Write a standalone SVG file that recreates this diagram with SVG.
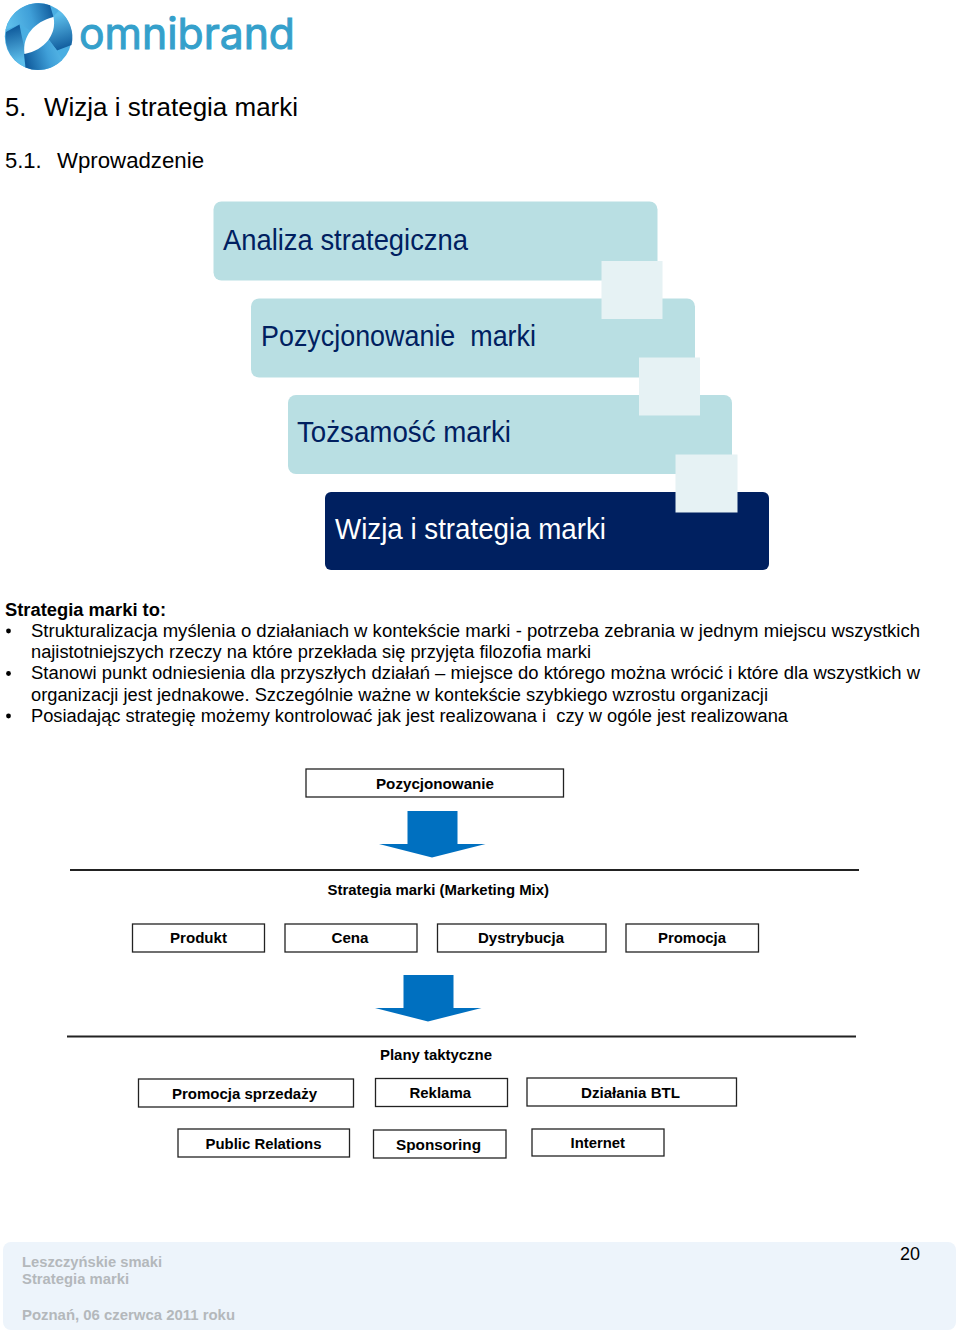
<svg xmlns="http://www.w3.org/2000/svg" width="960" height="1331" viewBox="0 0 960 1331">
<defs>
<linearGradient id="gTop" gradientUnits="userSpaceOnUse" x1="10" y1="24" x2="53" y2="12"><stop offset="0" stop-color="#5cbdea"/><stop offset="0.5" stop-color="#3f9fd8"/><stop offset="1" stop-color="#115d9e"/></linearGradient>
<linearGradient id="gLeft" gradientUnits="userSpaceOnUse" x1="14" y1="28" x2="22" y2="60"><stop offset="0" stop-color="#115d9e"/><stop offset="1" stop-color="#5cbdea"/></linearGradient>
<linearGradient id="gRight" gradientUnits="userSpaceOnUse" x1="56" y1="16" x2="66" y2="48"><stop offset="0" stop-color="#5cbdea"/><stop offset="1" stop-color="#115d9e"/></linearGradient>
<linearGradient id="gBot" gradientUnits="userSpaceOnUse" x1="26" y1="62" x2="66" y2="50"><stop offset="0" stop-color="#115d9e"/><stop offset="0.55" stop-color="#3f9fd8"/><stop offset="1" stop-color="#5cbdea"/></linearGradient>
</defs>
<style>
text{font-family:"Liberation Sans",Arial,sans-serif;fill:#000}
.h1{font-size:25.500px}.h2{font-size:22px}
.body{font-size:18px}
.lab{font-size:15px;font-weight:bold}
.box{fill:#fff;stroke:#222;stroke-width:1.3}
.rule{stroke:#222;stroke-width:1.8;fill:none}
.step{fill:#b9dfe3}
.tab{fill:#e6f2f4}
.st{font-size:29px;fill:#002060}
.foot{font-size:15px;font-weight:bold;fill:#b4b8bb}
.arrow{fill:#0070c0}
</style>
<g id="logo">
<circle cx="38.300" cy="36.600" r="33.500" fill="#4aaee2"/>
<path d="M5.500 30 A33.500 33.500 0 0 1 50 5.300 L53.500 17 L32 32 L20 24Z" fill="url(#gTop)"/>
<path d="M6 32 L19.500 24.500 C21 33 23 42 25 50 L24 54 L25.500 67.500 A33.500 33.500 0 0 1 6 32Z" fill="url(#gLeft)"/>
<path d="M53 17 L59 10.500 A33.500 33.500 0 0 1 71.500 45 L57 50.500 L46 36Z" fill="url(#gRight)"/>
<path d="M24 54 L46 36 L57 50.500 L62 60 A33.500 33.500 0 0 1 25.500 67.500Z" fill="url(#gBot)"/>
<path d="M24.500 54 C22 36 34 22 53.500 17 C57 34 45 50 24.500 54Z" fill="#fff"/>
<text x="79" y="49" font-size="43" textLength="216" lengthAdjust="spacingAndGlyphs" stroke="#35a0cb" stroke-width="1" style="font-family:Inter,sans-serif;fill:#35a0cb">omnibrand</text>
</g>
<g id="headings">
<text class="h1" x="5" y="116">5.</text><text class="h1" x="44" y="116" textLength="254" lengthAdjust="spacingAndGlyphs">Wizja i strategia marki</text>
<text class="h2" x="5" y="168">5.1.</text><text class="h2" x="57" y="168" textLength="147" lengthAdjust="spacingAndGlyphs">Wprowadzenie</text>
</g>
<g id="step1"><rect class="step" x="213.500" y="201.500" width="444" height="79" rx="8"/><text class="st" x="223" y="250" textLength="245" lengthAdjust="spacingAndGlyphs">Analiza strategiczna</text></g>
<g id="step2"><rect class="step" x="251" y="298.500" width="444" height="79" rx="8"/><text class="st" x="261" y="346" textLength="275" lengthAdjust="spacingAndGlyphs" xml:space="preserve">Pozycjonowanie  marki</text></g>
<g id="step3"><rect class="step" x="288" y="395" width="444" height="79" rx="8"/><text class="st" x="297" y="442" textLength="214" lengthAdjust="spacingAndGlyphs">Tożsamość marki</text></g>
<g id="step4"><rect x="325" y="492" width="444" height="78" rx="6" fill="#002060"/><text class="st" x="335" y="539" textLength="271" lengthAdjust="spacingAndGlyphs" style="fill:#fff">Wizja i strategia marki</text></g>
<g id="tabs">
<rect class="tab" x="601.500" y="261" width="61" height="58"/>
<rect class="tab" x="639" y="357.500" width="61" height="58"/>
<rect class="tab" x="675.500" y="454.500" width="62" height="58"/>
</g>
<g id="bodytext">
<text class="body" x="5" y="616" font-weight="bold" textLength="161" lengthAdjust="spacingAndGlyphs">Strategia marki to:</text>
<circle cx="8.500" cy="631" r="2.400"/><circle cx="8.500" cy="673.500" r="2.400"/><circle cx="8.500" cy="716" r="2.400"/>
<text class="body" x="31" y="637" textLength="889" lengthAdjust="spacingAndGlyphs">Strukturalizacja myślenia o działaniach w kontekście marki - potrzeba zebrania w jednym miejscu wszystkich</text>
<text class="body" x="31" y="658" textLength="560" lengthAdjust="spacingAndGlyphs">najistotniejszych rzeczy na które przekłada się przyjęta filozofia marki</text>
<text class="body" x="31" y="679" textLength="889" lengthAdjust="spacingAndGlyphs">Stanowi punkt odniesienia dla przyszłych działań – miejsce do którego można wrócić i które dla wszystkich w</text>
<text class="body" x="31" y="701" textLength="737" lengthAdjust="spacingAndGlyphs">organizacji jest jednakowe. Szczególnie ważne w kontekście szybkiego wzrostu organizacji</text>
<text class="body" x="31" y="722" textLength="757" lengthAdjust="spacingAndGlyphs" xml:space="preserve">Posiadając strategię możemy kontrolować jak jest realizowana i  czy w ogóle jest realizowana</text>
</g>
<g id="connectors">
<path class="arrow" d="M407.500 811H457.500V844H485.500L432 857.500L379 844H407.500Z"/>
<path class="arrow" d="M403.500 975H453.500V1008H481.500L428 1021.500L375 1008H403.500Z"/>
<path class="rule" d="M70 870H859"/>
<path class="rule" d="M67 1036.500H856"/>
</g>
<g id="n-pozycjonowanie"><rect class="box" x="306" y="769" width="257.500" height="28"/><text class="lab" x="376" y="789" textLength="118" lengthAdjust="spacingAndGlyphs">Pozycjonowanie</text></g>
<g id="n-strategia"><text class="lab" x="327.500" y="895" textLength="221.500" lengthAdjust="spacingAndGlyphs">Strategia marki (Marketing Mix)</text></g>
<g id="n-produkt"><rect class="box" x="132.500" y="924" width="132" height="28"/><text class="lab" x="170" y="943" textLength="57" lengthAdjust="spacingAndGlyphs">Produkt</text></g>
<g id="n-cena"><rect class="box" x="285" y="924" width="132" height="28"/><text class="lab" x="331.500" y="943" textLength="37" lengthAdjust="spacingAndGlyphs">Cena</text></g>
<g id="n-dystrybucja"><rect class="box" x="437.500" y="924" width="168.500" height="28"/><text class="lab" x="478" y="943" textLength="86" lengthAdjust="spacingAndGlyphs">Dystrybucja</text></g>
<g id="n-promocja"><rect class="box" x="626" y="924" width="132.500" height="28"/><text class="lab" x="658" y="943" textLength="68" lengthAdjust="spacingAndGlyphs">Promocja</text></g>
<g id="n-plany"><text class="lab" x="380" y="1060" textLength="112" lengthAdjust="spacingAndGlyphs">Plany taktyczne</text></g>
<g id="n-promocja-sprzedazy"><rect class="box" x="138.500" y="1079" width="215" height="28"/><text class="lab" x="172" y="1098.500" textLength="145" lengthAdjust="spacingAndGlyphs">Promocja sprzedaży</text></g>
<g id="n-reklama"><rect class="box" x="375.500" y="1078.500" width="132" height="28"/><text class="lab" x="409.500" y="1097.500" textLength="61.500" lengthAdjust="spacingAndGlyphs">Reklama</text></g>
<g id="n-dzialania"><rect class="box" x="527" y="1078" width="209.500" height="28"/><text class="lab" x="581" y="1097.500" textLength="99" lengthAdjust="spacingAndGlyphs">Działania BTL</text></g>
<g id="n-public"><rect class="box" x="178" y="1129" width="171.500" height="28"/><text class="lab" x="205.500" y="1148.500" textLength="116" lengthAdjust="spacingAndGlyphs">Public Relations</text></g>
<g id="n-sponsoring"><rect class="box" x="373.500" y="1130" width="132.500" height="28"/><text class="lab" x="396" y="1149.500" textLength="85" lengthAdjust="spacingAndGlyphs">Sponsoring</text></g>
<g id="n-internet"><rect class="box" x="532" y="1129" width="132" height="27"/><text class="lab" x="570.500" y="1148" textLength="54.500" lengthAdjust="spacingAndGlyphs">Internet</text></g>
<g id="footer">
<rect x="3" y="1242" width="953" height="88" rx="8" fill="#edf4fb"/>
<text class="foot" x="22" y="1267" textLength="140" lengthAdjust="spacingAndGlyphs">Leszczyńskie smaki</text>
<text class="foot" x="22" y="1284" textLength="107" lengthAdjust="spacingAndGlyphs">Strategia marki</text>
<text class="foot" x="22" y="1320" textLength="213" lengthAdjust="spacingAndGlyphs">Poznań, 06 czerwca 2011 roku</text>
<text x="900" y="1260" font-size="19" textLength="20" lengthAdjust="spacingAndGlyphs" style="font-family:'Liberation Sans',sans-serif">20</text>
</g>
</svg>
